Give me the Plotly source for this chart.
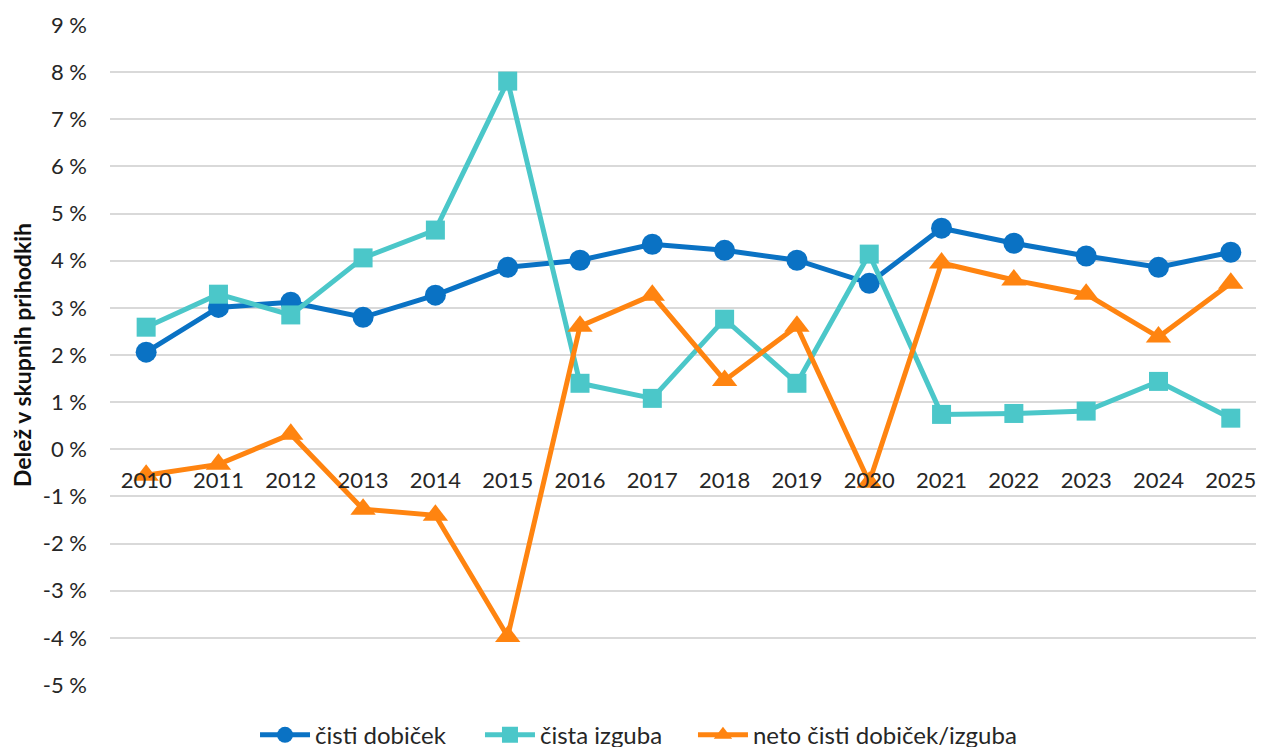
import plotly.graph_objects as go

years = ["2010", "2011", "2012", "2013", "2014", "2015", "2016", "2017",
         "2018", "2019", "2020", "2021", "2022", "2023", "2024", "2025"]
cisti_dobicek = [2.06, 3.01, 3.12, 2.80, 3.27, 3.86, 4.01, 4.35,
                 4.22, 4.01, 3.52, 4.69, 4.37, 4.10, 3.86, 4.18]
cista_izguba = [2.59, 3.29, 2.85, 4.06, 4.65, 7.81, 1.40, 1.08,
                2.76, 1.40, 4.14, 0.74, 0.76, 0.81, 1.44, 0.66]
neto = [-0.55, -0.32, 0.32, -1.27, -1.40, -3.97, 2.61, 3.27,
        1.46, 2.61, -0.70, 3.95, 3.59, 3.29, 2.38, 3.52]
y_ticks = list(range(-5, 10))
y_ticktext = [f"{v}\u00a0%" for v in y_ticks]

FONT = "Lato, Carlito, sans-serif"
TXT = "#262626"

fig = go.Figure()
fig.add_trace(go.Scatter(x=years, y=cisti_dobicek, name="čisti dobiček",
                         mode="lines+markers", legend="legend",
                         line=dict(color="#0A72C4", width=5),
                         marker=dict(symbol="circle", size=21, color="#0A72C4")))
fig.add_trace(go.Scatter(x=years, y=cista_izguba, name="čista izguba",
                         mode="lines+markers", legend="legend2",
                         line=dict(color="#4BC7C9", width=5),
                         marker=dict(symbol="square", size=19, color="#4BC7C9")))
fig.add_trace(go.Scatter(x=years, y=neto, name="neto čisti dobiček/izguba",
                         mode="lines+markers", legend="legend3",
                         line=dict(color="#FF8410", width=5),
                         marker=dict(symbol="triangle-up", size=22, color="#FF8410")))

leg_common = dict(orientation="h", xanchor="left", y=-0.042, yanchor="top",
                  font=dict(size=24, family=FONT, color=TXT),
                  itemwidth=50, bgcolor="rgba(0,0,0,0)")

fig.update_layout(
    width=1264, height=747,
    margin=dict(l=102, r=0, t=17, b=70, autoexpand=False),
    paper_bgcolor="white", plot_bgcolor="white",
    font=dict(family=FONT, color=TXT),
    showlegend=True,
    legend=dict(x=0.1248, **leg_common),
    legend2=dict(x=0.3184, **leg_common),
    legend3=dict(x=0.5017, **leg_common),
    xaxis=dict(type="category", range=[-0.5, 15.57],
               anchor="free", position=5/14, automargin=False,
               showgrid=False, showline=False, zeroline=False,
               ticks="", tickfont=dict(size=22, family=FONT, color=TXT),
               ticklabelstandoff=16),
    yaxis=dict(range=[-5, 9], tickvals=y_ticks, ticktext=y_ticktext,
               automargin=False,
               showgrid=True, gridcolor="#D9D9D9", gridwidth=2,
               zeroline=False, showline=False, ticks="",
               tickfont=dict(size=22, family=FONT, color=TXT),
               ticklabelstandoff=22,
               title=dict(text="<b>Delež v skupnih prihodkih</b>",
                          font=dict(size=23, family=FONT, color="#111111"),
                          standoff=4)),
)

fig.write_html("out.html")
